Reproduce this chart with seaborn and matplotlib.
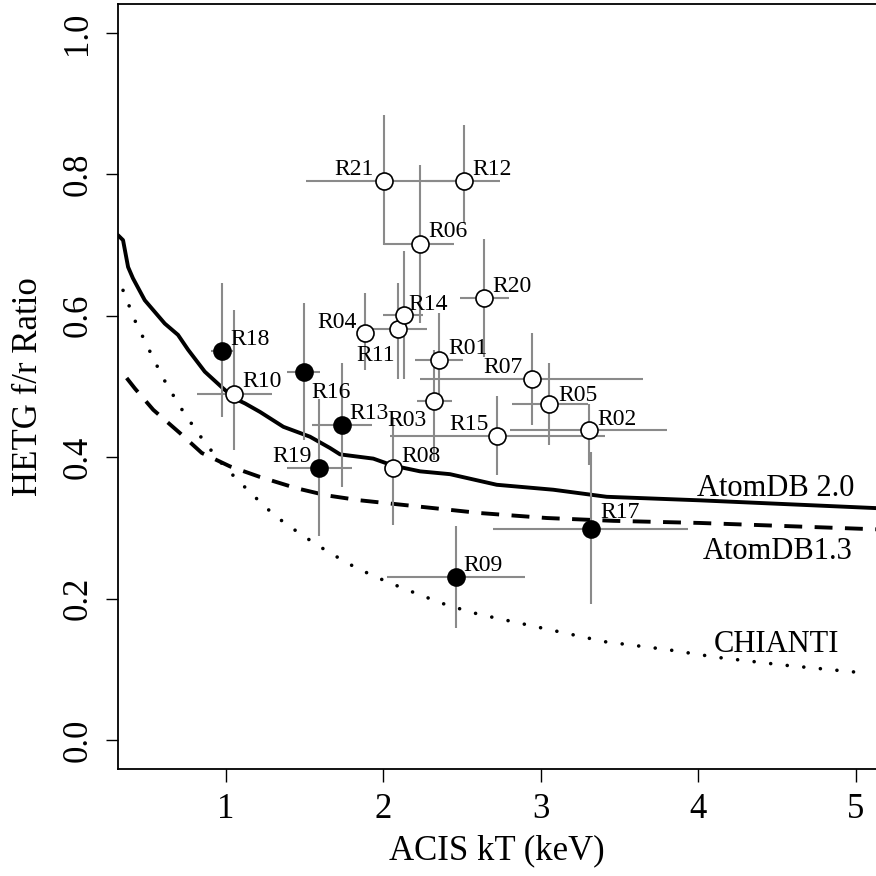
import numpy as np
import pandas as pd
import matplotlib
matplotlib.use("Agg")
import matplotlib.pyplot as plt
import seaborn as sns

# ---------------- data ----------------
regions = ["R01", "R02", "R03", "R04", "R05", "R06", "R07", "R08", "R09", "R10", "R11",
           "R12", "R13", "R14", "R15", "R16", "R17", "R18", "R19", "R20", "R21"]
kT = [2.356, 3.307, 2.324, 1.884, 3.055, 2.236, 2.945, 2.064, 2.462, 1.051, 2.092,
      2.511, 1.737, 2.130, 2.724, 1.495, 3.319, 0.978, 1.594, 2.642, 2.005]
kT_lo = [2.202, 2.805, 2.213, 1.864, 2.816, 2.005, 2.234, 2.064, 2.022, 0.818, 1.891,
         2.265, 1.546, 1.999, 2.043, 1.387, 2.699, 0.905, 1.387, 2.488, 1.510]
kT_hi = [2.509, 3.800, 2.435, 1.904, 3.302, 2.450, 3.651, 2.064, 2.900, 1.294, 2.278,
         2.742, 1.927, 2.253, 3.408, 1.599, 3.937, 1.057, 1.800, 2.801, 2.500]
ratio = [0.538, 0.438, 0.480, 0.576, 0.475, 0.701, 0.510, 0.385, 0.230, 0.490, 0.581,
         0.791, 0.445, 0.601, 0.430, 0.520, 0.299, 0.550, 0.385, 0.625, 0.791]
ratio_lo = [0.481, 0.389, 0.396, 0.523, 0.417, 0.590, 0.446, 0.304, 0.158, 0.410, 0.511,
            0.731, 0.358, 0.511, 0.375, 0.424, 0.193, 0.457, 0.288, 0.542, 0.700]
ratio_hi = [0.604, 0.475, 0.552, 0.632, 0.533, 0.813, 0.576, 0.457, 0.302, 0.608, 0.646,
            0.870, 0.533, 0.691, 0.486, 0.618, 0.408, 0.646, 0.483, 0.708, 0.884]
filled_regions = ["R09", "R13", "R16", "R17", "R18", "R19"]

atomdb20_kT = [0.316, 0.348, 0.380, 0.411, 0.486, 0.613, 0.697, 0.761, 0.867, 0.970, 1.057,
               1.123, 1.218, 1.366, 1.535, 1.662, 1.726, 1.937, 2.064, 2.234, 2.424, 2.721,
               3.080, 3.419, 4.011, 5.129]
atomdb20_ratio = [0.714, 0.707, 0.669, 0.653, 0.622, 0.589, 0.573, 0.552, 0.521, 0.500, 0.483,
                  0.476, 0.464, 0.443, 0.429, 0.413, 0.404, 0.398, 0.388, 0.380, 0.376, 0.361,
                  0.354, 0.344, 0.339, 0.328]
atomdb13_kT = [0.371, 0.424, 0.540, 0.710, 0.848, 1.027, 1.218, 1.451, 1.641, 1.853, 2.234,
               2.615, 3.038, 3.461, 4.011, 5.129]
atomdb13_ratio = [0.512, 0.497, 0.467, 0.434, 0.406, 0.387, 0.372, 0.356, 0.346, 0.339, 0.330,
                  0.321, 0.314, 0.310, 0.307, 0.298]
chianti_kT = [0.348, 0.422, 0.511, 0.602, 0.708, 0.824, 0.951, 1.017, 1.165, 1.313, 1.483,
              1.651, 1.832, 2.022, 2.213, 2.403, 2.604, 3.408, 3.800, 4.117, 4.540, 5.048]
chianti_ratio = [0.636, 0.594, 0.553, 0.512, 0.472, 0.434, 0.397, 0.381, 0.348, 0.317, 0.290,
                 0.266, 0.243, 0.224, 0.207, 0.191, 0.178, 0.139, 0.128, 0.117, 0.106, 0.095]

curve_names = ["AtomDB 2.0", "AtomDB1.3", "CHIANTI"]
curve_label_kT = [3.992, 4.029, 4.100]
curve_label_ratio = [0.3455, 0.256, 0.125]

x_ticks = [1, 2, 3, 4, 5]
y_ticks = [0.0, 0.2, 0.4, 0.6, 0.8, 1.0]

# label placement (pixel offsets from point, horizontal alignment)
label_dx = [9, 8, -8, -8, 9, 8, -9, 8, 7, 9, -3, 9, 8, 5, -9, 8, 9, 8, -8, 8, -10]
label_dy = [6, 5, -25, 5, 3, 7, 6, 6, 6, 7, -32, 6, 6, 5, 6, -26, 11, 6, 6, 6, 6]
label_ha = ["left", "left", "right", "right", "left", "left", "right", "left", "left", "left",
            "right", "left", "left", "left", "right", "left", "left", "left", "right", "left",
            "right"]

# ---------------- plot ----------------
sns.set_theme(style="white")
plt.rcParams["font.family"] = ["Liberation Serif", "DejaVu Serif"]
for key in ["text.color", "axes.labelcolor", "xtick.color", "ytick.color", "axes.edgecolor"]:
    plt.rcParams[key] = "black"

fig = plt.figure(figsize=(8.76, 8.76), dpi=100)
ax = fig.add_axes([118 / 876, 107 / 876, (876 - 118) / 876, (769 - 4) / 876])

df20 = pd.DataFrame({"kT": atomdb20_kT, "ratio": atomdb20_ratio})
df13 = pd.DataFrame({"kT": atomdb13_kT, "ratio": atomdb13_ratio})
dfch = pd.DataFrame({"kT": chianti_kT, "ratio": chianti_ratio})

sns.lineplot(data=df20, x="kT", y="ratio", ax=ax, color="black", lw=2.8,
             sort=False, estimator=None)
sns.lineplot(data=df13, x="kT", y="ratio", ax=ax, color="black", lw=2.8,
             sort=False, estimator=None, linestyle=(0, (4.6, 3.2)))
l = sns.lineplot(data=dfch, x="kT", y="ratio", ax=ax, color="black", lw=2.6,
                 sort=False, estimator=None)
l.lines[-1].set_linestyle((0, (0.01, 4.6)))
l.lines[-1].set_dash_capstyle("round")

kT_a = np.array(kT)
r_a = np.array(ratio)
xerr = np.vstack([kT_a - np.array(kT_lo), np.array(kT_hi) - kT_a])
yerr = np.vstack([r_a - np.array(ratio_lo), np.array(ratio_hi) - r_a])
ax.errorbar(kT_a, r_a, xerr=xerr, yerr=yerr, fmt="none", ecolor="#8a8a8a",
            elinewidth=1.5, capsize=0, zorder=3)

pts = pd.DataFrame({"kT": kT, "ratio": ratio, "region": regions})
pts["filled"] = pts["region"].isin(filled_regions)
sns.scatterplot(data=pts[~pts["filled"]], x="kT", y="ratio", ax=ax, s=150,
                color="white", edgecolor="black", linewidth=1.2, zorder=4, legend=False)
sns.scatterplot(data=pts[pts["filled"]], x="kT", y="ratio", ax=ax, s=150,
                color="black", edgecolor="black", linewidth=1.2, zorder=4, legend=False)

for name, x, y, dx, dy, ha in zip(regions, kT, ratio, label_dx, label_dy, label_ha):
    ax.annotate(name, (x, y), xytext=(dx * 0.72, dy * 0.72), textcoords="offset points",
                ha=ha, va="baseline", fontsize=17, color="black", zorder=5)

for name, x, y in zip(curve_names, curve_label_kT, curve_label_ratio):
    ax.text(x, y, name, ha="left", va="baseline", fontsize=22, color="black")

ax.set_xlim(0.316, 5.129)
ax.set_ylim(-0.041, 1.041)
ax.set_xticks(x_ticks)
ax.set_xticklabels([str(t) for t in x_ticks])
ax.set_yticks(y_ticks)
ax.set_yticklabels([f"{t:.1f}" for t in y_ticks], rotation=90, va="center")
ax.tick_params(axis="both", direction="out", length=9, width=1.0, color="black",
               labelcolor="black", labelsize=25, pad=8, bottom=True, left=True)
ax.set_xlabel("ACIS kT (keV)", fontsize=25, labelpad=6, color="black")
ax.set_ylabel("HETG f/r Ratio", fontsize=25, labelpad=12, color="black")
for side in ["left", "bottom", "top"]:
    ax.spines[side].set_color("black")
    ax.spines[side].set_linewidth(1.3)
ax.spines["right"].set_visible(False)
ax.grid(False)

fig.savefig("out.png", dpi=100)
